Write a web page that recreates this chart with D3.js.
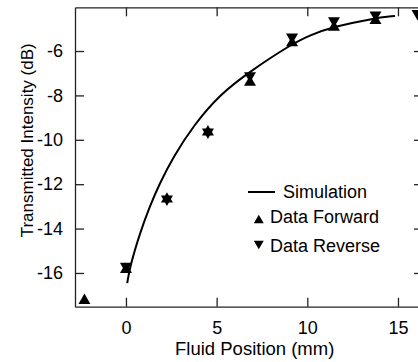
<!DOCTYPE html>
<html>
<head>
<meta charset="utf-8">
<script src="https://cdn.jsdelivr.net/npm/d3@7"></script>
<style>
  body { margin: 0; background: #fff; }
  svg { display: block; font-family: "Liberation Sans", Arial, Helvetica, sans-serif; }
</style>
</head>
<body>
<div id="chart"></div>
<script>
// Simulation curve
let simX = [0.07, 0.22, 0.77, 1.32, 1.84, 2.61, 3.71, 5.18, 6.84, 9.05, 10.15, 11.42, 13.62, 14.84];
let simY = [-16.46, -15.72, -14.20, -12.99, -12.0, -10.77, -9.37, -7.95, -6.92, -5.73, -5.28, -4.91, -4.53, -4.42];

// measured data
let fwdX = [-2.29, 0, 2.26, 4.52, 6.84, 9.16, 11.47, 13.76];
let fwdY = [-17.24, -15.85, -12.67, -9.65, -7.41, -5.63, -4.93, -4.63];
let revX = [0, 2.26, 4.52, 6.84, 9.16, 11.47, 13.76, 16.08];
let revY = [-15.7, -12.67, -9.65, -7.11, -5.37, -4.63, -4.37, -4.31];

let xTicks = [0, 5, 10, 15];
let yTicks = [-16, -14, -12, -10, -8, -6];
let legendLabels = ["Simulation", "Data Forward", "Data Reverse"];

let width = 418, height = 362;
let plotL = 75, plotR = 421, plotT = 7.3, plotB = 306.7;

let svg = d3.select("#chart").append("svg")
  .attr("width", width)
  .attr("height", height);

let xScale = d3.scaleLinear().domain([-2.81, 16.27]).range([plotL, plotR]);
let yScale = d3.scaleLinear().domain([-17.52, -4.03]).range([plotB, plotT]);

let tickLen = 9;
let fontSize = 18;

// axes on all four sides, ticks pointing inward
let axisB = d3.axisBottom(xScale).tickValues(xTicks).tickSizeInner(-tickLen).tickSizeOuter(0).tickPadding(15);
let axisT = d3.axisTop(xScale).tickValues(xTicks).tickSizeInner(-tickLen).tickSizeOuter(0).tickFormat("");
let axisL = d3.axisLeft(yScale).tickValues(yTicks).tickSizeInner(-tickLen).tickSizeOuter(0).tickPadding(12)
  .tickFormat(d => d < 0 ? "-" + Math.abs(d) : d);
let axisR = d3.axisRight(yScale).tickValues(yTicks).tickSizeInner(-tickLen + 2).tickSizeOuter(0).tickFormat("");

let gB = svg.append("g").attr("transform", `translate(0,${plotB})`).call(axisB);
let gT = svg.append("g").attr("transform", `translate(0,${plotT})`).call(axisT);
let gL = svg.append("g").attr("transform", `translate(${plotL},0)`).call(axisL);
let gR = svg.append("g").attr("transform", `translate(${plotR},0)`).call(axisR);

[gB, gT, gL, gR].forEach(g => {
  g.attr("font-family", null).attr("font-size", null);
  g.select(".domain").attr("stroke", "#222").attr("stroke-width", 1.3);
  g.selectAll(".tick line").attr("stroke", "#222").attr("stroke-width", 1.3);
  g.selectAll(".tick text").attr("fill", "#000").style("font-size", fontSize + "px");
});

// axis titles
svg.append("text")
  .attr("x", 254.7)
  .attr("y", 355)
  .attr("text-anchor", "middle")
  .style("font-size", "18.5px")
  .text("Fluid Position (mm)");

svg.append("text")
  .attr("transform", "translate(33,140.3) rotate(-90)")
  .attr("text-anchor", "middle")
  .style("font-size", "17px")
  .text("Transmitted Intensity (dB)");

// simulation line, smoothed through the read points
let simData = simX.map((x, i) => [x, simY[i]]);
svg.append("path")
  .datum(simData)
  .attr("fill", "none")
  .attr("stroke", "#000")
  .attr("stroke-width", 2)
  .attr("d", d3.line().x(d => xScale(d[0])).y(d => yScale(d[1])).curve(d3.curveBasis));

// markers
let tri = d3.symbol().type(d3.symbolTriangle).size(62);
svg.append("g").selectAll("path")
  .data(fwdX.map((x, i) => [x, fwdY[i]]))
  .join("path")
  .attr("d", tri)
  .attr("fill", "#000")
  .attr("transform", d => `translate(${xScale(d[0])},${yScale(d[1])})`);

svg.append("g").selectAll("path")
  .data(revX.map((x, i) => [x, revY[i]]))
  .join("path")
  .attr("d", tri)
  .attr("fill", "#000")
  .attr("transform", d => `translate(${xScale(d[0])},${yScale(d[1])}) rotate(180)`);

// legend
let lg = svg.append("g").style("font-size", fontSize + "px");
lg.append("line")
  .attr("x1", 248).attr("x2", 275)
  .attr("y1", 192).attr("y2", 192)
  .attr("stroke", "#000").attr("stroke-width", 2);
lg.append("text").attr("x", 283).attr("y", 198).text(legendLabels[0]);

let legTri = d3.symbol().type(d3.symbolTriangle).size(43);
lg.append("path").attr("d", legTri).attr("transform", "translate(258.8,220.4)");
lg.append("text").attr("x", 270).attr("y", 223.3).text(legendLabels[1]);
lg.append("path").attr("d", legTri).attr("transform", "translate(258.8,243.6) rotate(180)");
lg.append("text").attr("x", 270).attr("y", 252.3).text(legendLabels[2]);
</script>
</body>
</html>
